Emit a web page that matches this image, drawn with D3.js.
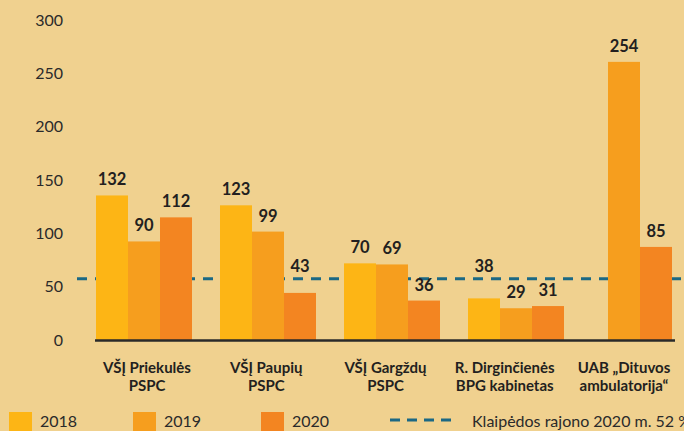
<!DOCTYPE html>
<html>
<head>
<meta charset="utf-8">
<script src="https://cdn.jsdelivr.net/npm/d3@7"></script>
<style>
  html, body { margin: 0; padding: 0; background: #f0d18f; overflow: hidden; }
  svg { display: block; }
</style>
</head>
<body>
<div id="chart"></div>
<script>
// ---------- data ----------
const categoryLine1 = ["VŠĮ Priekulės", "VŠĮ Paupių", "VŠĮ Gargždų", "R. Dirginčienės", "UAB „Dituvos"];
const categoryLine2 = ["PSPC", "PSPC", "PSPC", "BPG kabinetas", "ambulatorija“"];
const years = ["2018", "2019", "2020"];
const values2018 = [132, 123, 70, 38, null];
const values2019 = [90, 99, 69, 29, 254];
const values2020 = [112, 43, 36, 31, 85];
const yTicks = [0, 50, 100, 150, 200, 250, 300];
const referenceValue = 56;
const referenceLabel = "Klaipėdos rajono 2020 m. 52 %";

// ---------- setup ----------
const W = 684, H = 431;
const colors = { "2018": "#fdb515", "2019": "#f69e1e", "2020": "#f38521" };
const refColor = "#1b6884";
const textColor = "#231f20";
const font = "Lato, 'Open Sans', 'Noto Sans', sans-serif";

const svg = d3.select("#chart").append("svg").attr("width", W).attr("height", H);
svg.append("rect").attr("width", W).attr("height", H).attr("fill", "#f0d18f");

const categories = categoryLine1.map((d, i) => d + " " + categoryLine2[i]);
const seriesValues = [values2018, values2019, values2020];

const y = d3.scaleLinear().domain([0, 300]).range([340, 11.5]);
const yAxisScale = d3.scaleLinear().domain([0, 300]).range([339.5, 19.5]);
const x0 = d3.scalePoint().domain(categories).range([144, 640]);
const xLabel = d3.scalePoint().domain(categories).range([147, 624]);
const barW = 32;

// y axis labels (no line, no ticks)
const yAxis = d3.axisLeft(yAxisScale).tickValues(yTicks).tickSize(0).tickPadding(0);
const gy = svg.append("g").attr("transform", "translate(63,0)").call(yAxis);
gy.select(".domain").remove();
gy.selectAll("text")
  .attr("font-family", font).attr("font-size", 16).attr("fill", "#2a2a2a")
  .attr("dy", "0.36em");

// reference dashed line
const refY = y(referenceValue);
svg.append("line")
  .attr("x1", 77).attr("x2", W).attr("y1", refY).attr("y2", refY)
  .attr("stroke", refColor).attr("stroke-width", 3)
  .attr("stroke-dasharray", "10,8");

// bars
const bars = [];
categories.forEach((c, ci) => {
  const present = years.filter((yr, si) => seriesValues[si][ci] != null);
  const x1 = d3.scaleBand().domain(present).range([-barW * present.length / 2, barW * present.length / 2]);
  present.forEach(yr => {
    const v = seriesValues[years.indexOf(yr)][ci];
    bars.push({ c, yr, v, x: x0(c) + x1(yr) });
  });
});

svg.append("g").selectAll("rect").data(bars).join("rect")
  .attr("x", d => d.x).attr("width", barW)
  .attr("y", d => y(d.v)).attr("height", d => y(0) - y(d.v))
  .attr("fill", d => colors[d.yr]);

// value labels (lifted above the dashed line if they would cross it)
const gap = 10, capH = 11;
svg.append("g").selectAll("text").data(bars).join("text")
  .attr("x", d => d.x + barW / 2)
  .attr("y", d => {
    let b = y(d.v) - gap;
    if (b > refY - 1.5 && b - capH < refY) b = refY - 7;
    return b;
  })
  .attr("text-anchor", "middle")
  .attr("font-family", font).attr("font-weight", 700).attr("font-size", 16.5)
  .attr("fill", textColor)
  .text(d => d.v);

// x axis line
svg.append("line")
  .attr("x1", 95).attr("x2", 675).attr("y1", 340.5).attr("y2", 340.5)
  .attr("stroke", "#2a2a2a").attr("stroke-width", 2.5);

// category labels
const cl = svg.append("g").selectAll("text").data(categories).join("text")
  .attr("x", d => xLabel(d))
  .attr("text-anchor", "middle")
  .attr("font-family", font).attr("font-weight", 700).attr("font-size", 15)
  .attr("fill", textColor);
cl.append("tspan").attr("x", d => xLabel(d)).attr("y", 373).text((d, i) => categoryLine1[i]);
cl.append("tspan").attr("x", d => xLabel(d)).attr("y", 391).text((d, i) => categoryLine2[i]);

// legend
const legendX = [9, 133, 261];
const legend = svg.append("g");
years.forEach((yr, i) => {
  legend.append("rect").attr("x", legendX[i]).attr("y", 412).attr("width", 23).attr("height", 23)
    .attr("fill", colors[yr]);
  legend.append("text").attr("x", legendX[i] + 31).attr("y", 427)
    .attr("font-family", font).attr("font-size", 16).attr("fill", "#2a2a2a").text(yr);
});
legend.append("line").attr("x1", 390).attr("x2", 451).attr("y1", 420).attr("y2", 420)
  .attr("stroke", refColor).attr("stroke-width", 3).attr("stroke-dasharray", "10,7");
legend.append("text").attr("x", 472).attr("y", 427)
  .attr("font-family", font).attr("font-size", 16).attr("fill", "#2a2a2a").text(referenceLabel);
</script>
</body>
</html>
